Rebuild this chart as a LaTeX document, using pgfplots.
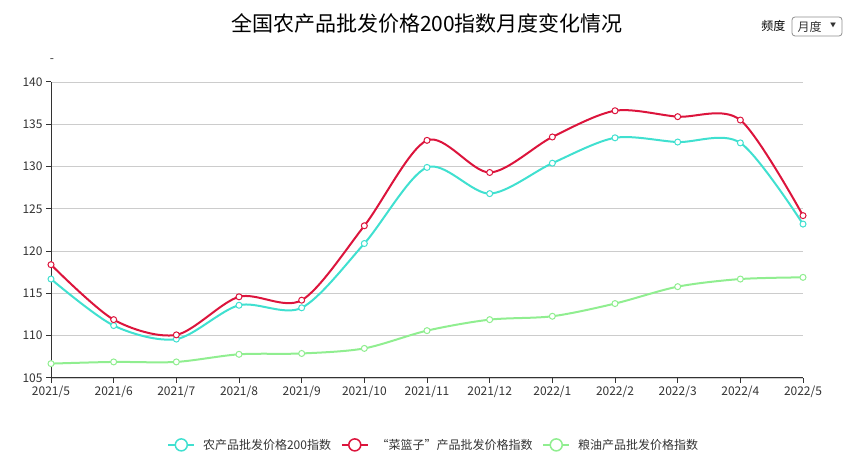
\documentclass[border=0pt]{standalone}
\usepackage{pgfplots}
\pgfplotsset{compat=1.18}
\usepackage{fontspec}
\setmainfont{Noto Sans CJK SC}

\definecolor{c200}{HTML}{40E0D0}
\definecolor{ccl}{HTML}{DC143C}
\definecolor{cgo}{HTML}{90EE90}
\definecolor{axc}{HTML}{333333}
\definecolor{gridc}{HTML}{CCCCCC}

\begin{document}
\begin{tikzpicture}[x=1bp,y=1bp]
\useasboundingbox (0,0) rectangle (854,460);
% title and frequency selector
\node[font=\fontsize{21bp}{24bp}\selectfont, text=black] at (427,437) {全国农产品批发价格200指数月度变化情况};
\node[font=\fontsize{12bp}{14bp}\selectfont, text=black, anchor=east] at (789,434) {频度};
\draw[gridc!70!black, line width=0.8bp, rounded corners=3bp] (792,424) rectangle (842,443);
\node[font=\fontsize{12bp}{14bp}\selectfont, text=axc, anchor=west] at (794,433.5) {月度};
\node[font=\fontsize{6bp}{7bp}\selectfont, text=axc] at (833,435) {▼};
\node[font=\fontsize{12bp}{14bp}\selectfont, text=axc] at (52,399) {-};

\begin{axis}[
  at={(51bp,82bp)}, anchor=south west,
  scale only axis, width=752bp, height=296bp,
  xmin=0, xmax=12, ymin=105, ymax=140,
  xtick={0,...,12},
  xticklabels={2021/5,2021/6,2021/7,2021/8,2021/9,2021/10,2021/11,2021/12,2022/1,2022/2,2022/3,2022/4,2022/5},
  ytick={105,110,...,140},
  ymajorgrids, grid style={gridc, line width=0.8bp},
  axis x line*=bottom, axis y line*=left,
  axis line style={axc, line width=1bp, -},
  tick style={axc, line width=1bp},
  tick align=outside, major tick length=5bp,
  ticklabel style={font=\fontsize{12bp}{14bp}\selectfont, text=axc},
  xticklabel style={yshift=1bp},
  /pgf/number format/assume math mode=true,
  legend style={at={(0.509,-0.226)}, anchor=center, draw=none, fill=none,
    font=\fontsize{12bp}{14bp}\selectfont, text=axc, column sep=6bp,
    /tikz/every even column/.append style={column sep=8bp}},
  legend columns=3,
  legend image code/.code={
    \draw[#1, mark=none, line width=1.5bp] (0bp,0bp) -- (26bp,0bp);
    \draw[#1, mark=none, line width=1.5bp, fill=white] (13bp,0bp) circle (6bp);
  },
  every axis plot/.append style={smooth, tension=0.5, line width=2bp,
    mark=*, mark size=3bp, mark options={fill=white, line width=1bp}},
]
\addplot[c200] coordinates {
 (0,116.7)(1,111.2)(2,109.6)(3,113.6)(4,113.3)(5,120.9)(6,129.9)
 (7,126.8)(8,130.4)(9,133.4)(10,132.9)(11,132.8)(12,123.2)};
\addlegendentry{农产品批发价格200指数}
\addplot[ccl] coordinates {
 (0,118.4)(1,111.9)(2,110.1)(3,114.6)(4,114.2)(5,123.0)(6,133.1)
 (7,129.3)(8,133.5)(9,136.6)(10,135.9)(11,135.5)(12,124.2)};
\addlegendentry{“菜篮子”产品批发价格指数}
\addplot[cgo] coordinates {
 (0,106.7)(1,106.9)(2,106.9)(3,107.8)(4,107.9)(5,108.5)(6,110.6)
 (7,111.9)(8,112.3)(9,113.8)(10,115.8)(11,116.7)(12,116.9)};
\addlegendentry{粮油产品批发价格指数}
\end{axis}
\end{tikzpicture}
\end{document}
